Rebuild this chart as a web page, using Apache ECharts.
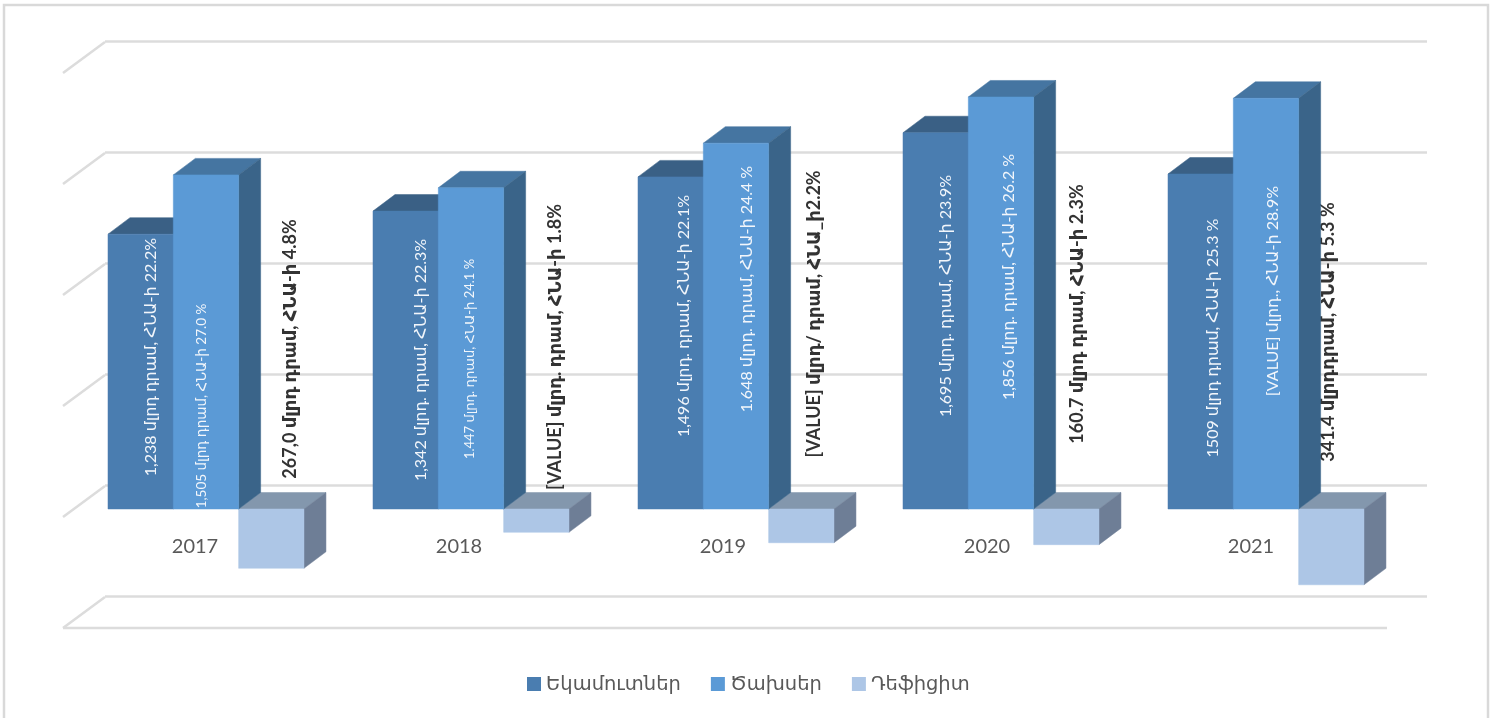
<!DOCTYPE html>
<html>
<head>
<meta charset="utf-8">
<style>html,body{margin:0;padding:0;background:#fff;overflow:hidden}#c{width:1493px;height:718px}</style>
<script src="https://cdn.jsdelivr.net/npm/echarts@6/dist/echarts.min.js"></script>
</head>
<body>
<div id="c"></div>
<script>
const categories = ['2017', '2018', '2019', '2020', '2021'];
const seriesNames = ['Եկամուտներ', 'Ծախսեր', 'Դեֆիցիտ'];
const revenue = [1238, 1342, 1496, 1695, 1509];
const spending = [1505, 1447, 1648, 1856, 1850];
const deficit = [-267, -105, -152, -160.7, -341.4];
const valueTicks = [-500, 0, 500, 1000, 1500, 2000];
const revenueLabels = [
  '1,238 մլրդ դրամ, ՀՆԱ-ի 22.2%',
  '1,342 մլրդ. դրամ, ՀՆԱ-ի 22.3%',
  '1,496 մլրդ. դրամ, ՀՆԱ-ի 22.1%',
  '1,695 մլրդ. դրամ, ՀՆԱ-ի 23.9%',
  '1509 մլրդ դրամ, ՀՆԱ-ի 25.3 %'
];
const spendingLabels = [
  '1,505 մլրդ դրամ, ՀՆԱ-ի 27.0 %',
  '1.447 մլրդ. դրամ, ՀՆԱ-ի 24.1 %',
  '1.648 մլրդ. դրամ, ՀՆԱ-ի 24.4 %',
  '1,856 մլրդ. դրամ, ՀՆԱ-ի 26.2 %',
  '[VALUE] մլրդ., ՀՆԱ-ի 28.9%'
];
const deficitLabels = [
  '267,0 մլրդ դրամ, ՀՆԱ-ի 4.8%',
  '[VALUE] մլրդ. դրամ, ՀՆԱ-ի 1.8%',
  '[VALUE] մլրդ/ դրամ, ՀՆԱ_ի2.2%',
  '160.7 մլրդ դրամ, ՀՆԱ-ի 2.3%',
  '341.4 մլրդդրամ, ՀՆԱ-ի 5.3 %'
];

// Layout of the hand-placed labels: [x offset from the bar's centre, y offset of label middle from the bar base, font size]
const revenueLabelLayout = [[10, -152, 16], [15, -149, 16], [13, -193, 16], [10, -213, 16], [12, -171, 16]];
const spendingLabelLayout = [[-4, -103, 13.5], [-1, -150, 13], [11, -220, 16], [8, -232, 16], [7, -218, 16]];
const deficitLabelLayout = [[19, -160, 18], [19, -162, 18], [13, -195, 18], [11, -195, 18], [-3, -177, 18]];

const FONT = 'Lato, "DejaVu Sans", sans-serif';
const GRID_LINE = '#dcdcdc';
const BAR_BAND = 0.2465;
const GROUP_START = -0.3302;
const BAR_LIFT = 8;
const DEPTH_X = 22, DEPTH_Y = 16.5;
const WALL_X = 42, WALL_Y = 31;

const faces = [
  { front: '#4a7db0', top: '#3a6085', side: '#3a6489' },
  { front: '#5b9ad6', top: '#4575a1', side: '#3a6489' },
  { front: '#adc6e6', top: '#8397ad', side: '#6e7e96' }
];
const labelSets = [revenueLabels, spendingLabels, deficitLabels];
const layouts = [revenueLabelLayout, spendingLabelLayout, deficitLabelLayout];
const labelStyles = [
  { fill: '#f2f6fb', fontWeight: 'normal' },
  { fill: '#f2f6fb', fontWeight: 'normal' },
  { fill: '#333333', fontWeight: 'bold' }
];

function poly(points, fill) {
  return { type: 'polygon', shape: { points }, style: { fill, stroke: fill, lineWidth: 0.5 } };
}

function barRenderer(k) {
  return function (params, api) {
    const i = api.value(0);
    const band = api.size([1, 0])[0];
    const w = band * BAR_BAND;
    const cx = api.coord([i, 0])[0];
    const x0 = cx + band * GROUP_START + k * w;
    const x1 = x0 + w;
    const yBase = api.coord([i, 0])[1] - BAR_LIFT;
    const yEnd = api.coord([i, api.value(1)])[1] - BAR_LIFT;
    const yTop = Math.min(yBase, yEnd), yBot = Math.max(yBase, yEnd);
    const f = faces[k];
    const [ldx, ldy, fs] = layouts[k][i];
    return {
      type: 'group',
      children: [
        poly([[x0, yTop], [x0 + DEPTH_X, yTop - DEPTH_Y], [x1 + DEPTH_X, yTop - DEPTH_Y], [x1, yTop]], f.top),
        poly([[x1, yTop], [x1 + DEPTH_X, yTop - DEPTH_Y], [x1 + DEPTH_X, yBot - DEPTH_Y], [x1, yBot]], f.side),
        poly([[x0, yTop], [x1, yTop], [x1, yBot], [x0, yBot]], f.front),
        {
          type: 'text',
          z2: 50,
          x: (x0 + x1) / 2 + ldx,
          y: yBase + ldy,
          rotation: Math.PI / 2,
          style: {
            text: labelSets[k][i],
            font: labelStyles[k].fontWeight + ' ' + fs + 'px ' + FONT,
            fill: labelStyles[k].fill,
            align: 'center',
            verticalAlign: 'middle'
          }
        }
      ]
    };
  };
}

function wallRenderer(params, api) {
  const cs = params.coordSys;
  const v = api.value(1);
  const y = api.coord([0, v])[1];
  const line = (x1, y1, x2, y2) => ({
    type: 'line',
    shape: { x1, y1, x2, y2 },
    style: { stroke: GRID_LINE, lineWidth: 2.5 }
  });
  const children = [line(cs.x, y, cs.x + WALL_X, y - WALL_Y)];
  if (v === valueTicks[0]) children.push(line(cs.x, y, cs.x + cs.width - 1, y));
  return { type: 'group', children };
}

const yMin = valueTicks[0], yMax = valueTicks[valueTicks.length - 1];
const hiddenY = { type: 'value', min: yMin, max: yMax, interval: 500, show: false };

const option = {
  animation: false,
  backgroundColor: '#ffffff',
  textStyle: { fontFamily: FONT },
  graphic: [{
    type: 'rect',
    silent: true,
    shape: { x: 4, y: 5, width: 1484, height: 730 },
    style: { fill: 'none', stroke: '#d9d9d9', lineWidth: 2.5 }
  }],
  legend: {
    left: 522,
    top: 669,
    data: [
      { name: seriesNames[0] },
      { name: seriesNames[1], textStyle: { width: 99 } },
      { name: seriesNames[2] }
    ],
    icon: 'rect',
    itemWidth: 14,
    itemHeight: 14,
    itemGap: 30,
    textStyle: { fontFamily: FONT, fontSize: 19.5, color: '#595959' }
  },
  grid: [
    { left: 63, top: 73, width: 1325, height: 555 },
    { left: 105, top: 41, width: 1322, height: 555 },
    { left: 63, top: 73, width: 1320, height: 555 }
  ],
  xAxis: [
    { type: 'category', gridIndex: 0, data: categories, show: false },
    { type: 'category', gridIndex: 1, data: categories, show: false },
    {
      type: 'category', gridIndex: 2, data: categories, offset: -111,
      axisLine: { show: false, onZero: false }, axisTick: { show: false },
      axisLabel: { fontFamily: FONT, fontSize: 20, color: '#595959', margin: 20 }
    }
  ],
  yAxis: [
    Object.assign({ gridIndex: 0 }, hiddenY),
    {
      type: 'value', gridIndex: 1, min: yMin, max: yMax, interval: 500,
      axisLabel: { show: false }, axisLine: { show: false }, axisTick: { show: false },
      splitLine: { show: true, lineStyle: { color: GRID_LINE, width: 2.5 } }
    },
    Object.assign({ gridIndex: 2 }, hiddenY)
  ],
  series: [
    {
      type: 'custom', name: 'wall', silent: true, z: 1, xAxisIndex: 0, yAxisIndex: 0,
      renderItem: wallRenderer,
      data: valueTicks.map(v => [0, v])
    },
    {
      type: 'custom', name: seriesNames[0], z: 3, xAxisIndex: 0, yAxisIndex: 0,
      itemStyle: { color: faces[0].front },
      renderItem: barRenderer(0),
      data: revenue.map((v, i) => [i, v])
    },
    {
      type: 'custom', name: seriesNames[2], z: 4, xAxisIndex: 0, yAxisIndex: 0,
      itemStyle: { color: faces[2].front },
      renderItem: barRenderer(2),
      data: deficit.map((v, i) => [i, v])
    },
    {
      type: 'custom', name: seriesNames[1], z: 5, xAxisIndex: 0, yAxisIndex: 0,
      itemStyle: { color: faces[1].front },
      renderItem: barRenderer(1),
      data: spending.map((v, i) => [i, v])
    }
  ]
};

const chart = echarts.init(document.getElementById('c'), null, { renderer: 'canvas' });
chart.setOption(option);
</script>
</body>
</html>
